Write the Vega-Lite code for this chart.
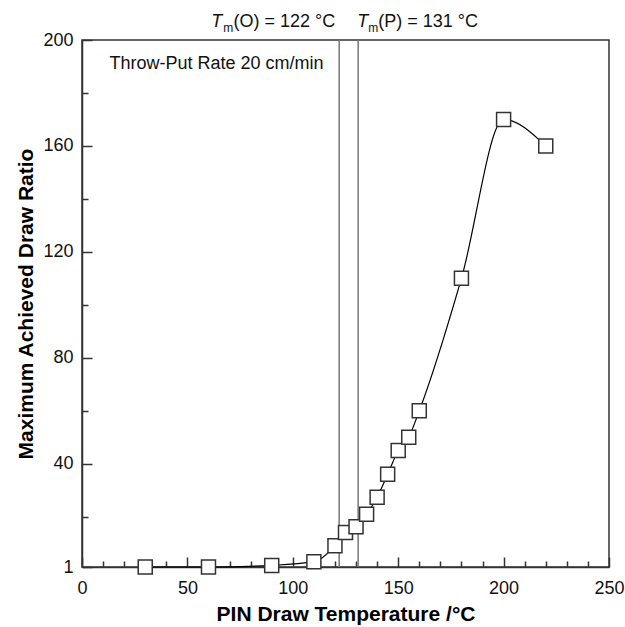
{
  "$schema": "https://vega.github.io/schema/vega-lite/v6.json",
  "width": 527,
  "height": 527,
  "autosize": {"type": "none"},
  "padding": {"left": 82, "top": 40, "right": 16, "bottom": 60},
  "background": "white",
  "config": {
    "view": {"stroke": "#333", "strokeWidth": 1.5},
    "font": "Liberation Sans",
    "axis": {"grid": false, "labelFont": "Liberation Sans", "titleFont": "Liberation Sans", "titleLimit": 800}
  },
  "datasets": {
    "pts": [
      {"t": 30, "r": 1},
      {"t": 60, "r": 1},
      {"t": 90, "r": 1.6},
      {"t": 110, "r": 3},
      {"t": 120, "r": 9},
      {"t": 125, "r": 14},
      {"t": 130, "r": 16.2},
      {"t": 135, "r": 20.9},
      {"t": 140, "r": 27.3},
      {"t": 145, "r": 36},
      {"t": 150, "r": 45},
      {"t": 155, "r": 50},
      {"t": 160, "r": 60},
      {"t": 180, "r": 110},
      {"t": 200, "r": 170},
      {"t": 220, "r": 160}
    ],
    "tm": [{"tm": 122}, {"tm": 131}],
    "one": [{"k": 1}]
  },
  "resolve": {"axis": {"x": "independent", "y": "independent"}},
  "layer": [
    {
      "data": {"name": "tm"},
      "mark": {"type": "rule", "color": "#777", "strokeWidth": 1.5},
      "encoding": {
        "x": {"field": "tm", "type": "quantitative", "scale": {"domain": [0, 250], "nice": false, "zero": false}, "axis": null}
      }
    },
    {
      "data": {"name": "pts"},
      "mark": {"type": "line", "color": "black", "strokeWidth": 1.2, "interpolate": "monotone"},
      "encoding": {
        "x": {
          "field": "t", "type": "quantitative",
          "scale": {"domain": [0, 250], "nice": false, "zero": false},
          "axis": {
            "orient": "bottom",
            "values": [0, 50, 100, 150, 200, 250],
            "title": "PIN Draw Temperature /°C",
            "titleFontSize": 21, "titleFontWeight": "bold", "titleColor": "black", "titlePadding": 6, "titleLimit": 800,
            "labelFontSize": 18, "labelColor": "#111", "labelPadding": 22, "labelFlush": false, "labelOverlap": false,
            "tickSize": -10, "tickColor": "#333", "tickWidth": 1.5,
            "domainColor": "#333", "domainWidth": 1.5
          }
        },
        "y": {
          "field": "r", "type": "quantitative",
          "scale": {"domain": [1, 200], "nice": false, "zero": false},
          "axis": {
            "orient": "left",
            "values": [1, 40, 80, 120, 160, 200],
            "title": "Maximum Achieved Draw Ratio",
            "titleFontSize": 21, "titleFontWeight": "bold", "titleColor": "black", "titlePadding": 6, "titleLimit": 800,
            "labelFontSize": 18, "labelColor": "#111", "labelPadding": 19, "labelFlush": false, "labelOverlap": false,
            "tickSize": -10, "tickColor": "#333", "tickWidth": 1.5,
            "domainColor": "#333", "domainWidth": 1.5
          }
        }
      }
    },
    {
      "data": {"name": "pts"},
      "mark": {"type": "square", "filled": true, "fill": "white", "stroke": "#333", "strokeWidth": 1.5, "size": 196, "opacity": 1},
      "encoding": {
        "x": {
          "field": "t", "type": "quantitative",
          "scale": {"domain": [0, 250], "nice": false, "zero": false},
          "axis": {
            "orient": "bottom",
            "values": [10, 20, 30, 40, 60, 70, 80, 90, 110, 120, 130, 140, 160, 170, 180, 190, 210, 220, 230, 240],
            "title": null, "labels": false, "domain": false,
            "tickSize": -6, "tickColor": "#333", "tickWidth": 1.5
          }
        },
        "y": {
          "field": "r", "type": "quantitative",
          "scale": {"domain": [1, 200], "nice": false, "zero": false},
          "axis": {
            "orient": "left",
            "values": [20, 60, 100, 140, 180],
            "title": null, "labels": false, "domain": false,
            "tickSize": -6, "tickColor": "#333", "tickWidth": 1.5
          }
        }
      }
    },
    {
      "data": {"name": "one"},
      "mark": {"type": "text", "text": "Throw-Put Rate 20 cm/min", "align": "left", "baseline": "middle", "fontSize": 18, "color": "#111"},
      "encoding": {
        "x": {"datum": 13, "type": "quantitative", "axis": null},
        "y": {"datum": 191, "type": "quantitative", "axis": null}
      }
    },
    {
      "data": {"name": "one"},
      "mark": {"type": "text", "text": "T", "fontStyle": "italic", "align": "right", "baseline": "alphabetic", "fontSize": 18, "dx": -117, "dy": -13, "color": "#111"},
      "encoding": {
        "x": {"datum": 122, "type": "quantitative", "axis": null},
        "y": {"datum": 200, "type": "quantitative", "axis": null}
      }
    },
    {
      "data": {"name": "one"},
      "mark": {"type": "text", "text": "m", "align": "right", "baseline": "alphabetic", "fontSize": 12, "dx": -106, "dy": -8, "color": "#111"},
      "encoding": {
        "x": {"datum": 122, "type": "quantitative", "axis": null},
        "y": {"datum": 200, "type": "quantitative", "axis": null}
      }
    },
    {
      "data": {"name": "one"},
      "mark": {"type": "text", "text": "(O) = 122 °C", "align": "right", "baseline": "alphabetic", "fontSize": 18, "dx": -4, "dy": -13, "color": "#111"},
      "encoding": {
        "x": {"datum": 122, "type": "quantitative", "axis": null},
        "y": {"datum": 200, "type": "quantitative", "axis": null}
      }
    },
    {
      "data": {"name": "one"},
      "mark": {"type": "text", "text": "T", "fontStyle": "italic", "align": "left", "baseline": "alphabetic", "fontSize": 18, "dx": -1, "dy": -13, "color": "#111"},
      "encoding": {
        "x": {"datum": 131, "type": "quantitative", "axis": null},
        "y": {"datum": 200, "type": "quantitative", "axis": null}
      }
    },
    {
      "data": {"name": "one"},
      "mark": {"type": "text", "text": "m", "align": "left", "baseline": "alphabetic", "fontSize": 12, "dx": 10, "dy": -8, "color": "#111"},
      "encoding": {
        "x": {"datum": 131, "type": "quantitative", "axis": null},
        "y": {"datum": 200, "type": "quantitative", "axis": null}
      }
    },
    {
      "data": {"name": "one"},
      "mark": {"type": "text", "text": "(P) = 131 °C", "align": "left", "baseline": "alphabetic", "fontSize": 18, "dx": 20, "dy": -13, "color": "#111"},
      "encoding": {
        "x": {"datum": 131, "type": "quantitative", "axis": null},
        "y": {"datum": 200, "type": "quantitative", "axis": null}
      }
    }
  ]
}
